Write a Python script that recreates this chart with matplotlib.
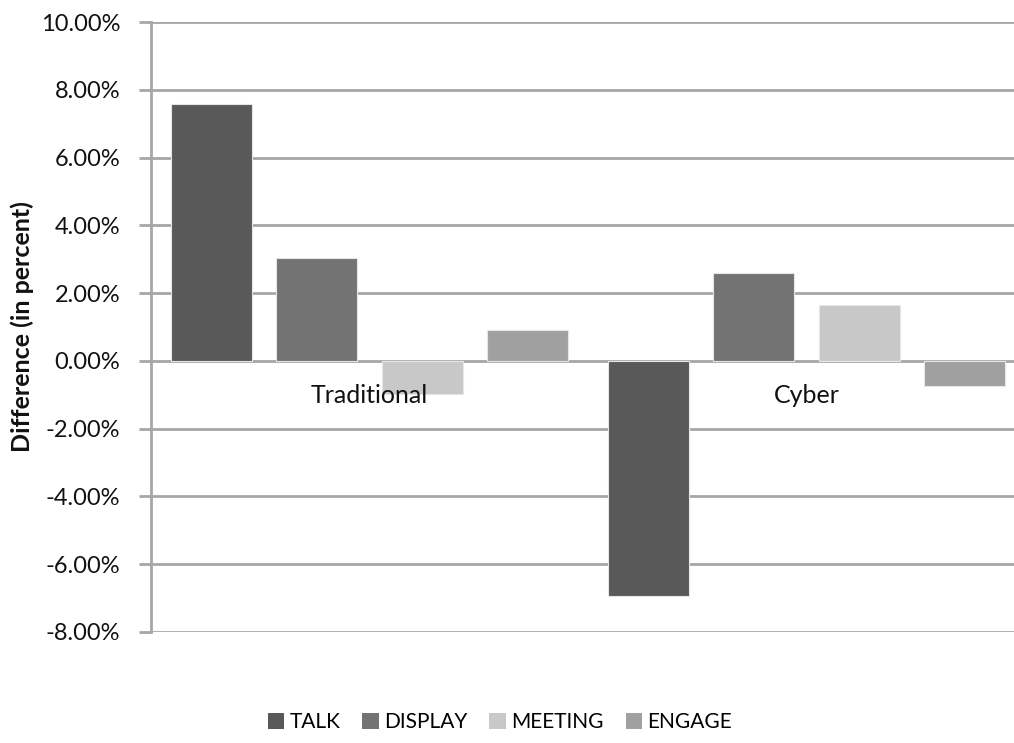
import matplotlib
matplotlib.use("Agg")
import matplotlib.pyplot as plt
from matplotlib.patches import Patch
import numpy as np

# Data: percent difference by category and behaviour type
categories = ["Traditional", "Cyber"]
series_names = ["TALK", "DISPLAY", "MEETING", "ENGAGE"]
talk = [7.58, -6.95]
display = [3.04, 2.60]
meeting = [-0.98, 1.66]
engage = [0.91, -0.75]
y_ticks = [-8, -6, -4, -2, 0, 2, 4, 6, 8, 10]

series_values = [talk, display, meeting, engage]
colors = ["#595959", "#737373", "#c8c8c8", "#a0a0a0"]

plt.rcParams["font.family"] = ["Lato", "DejaVu Sans"]

W, H = 1014, 743
fig = plt.figure(figsize=(W / 100, H / 100), dpi=100)
left, right, top, bottom = 151, 1025, 22, 632
ax = fig.add_axes([left / W, 1 - bottom / H, (right - left) / W, (bottom - top) / H])

x = np.arange(len(categories))
bar_w = 0.185
step = 0.241
offsets = (np.arange(len(series_names)) - 1.5) * step
for vals, name, col, off in zip(series_values, series_names, colors, offsets):
    ax.bar(x + off, vals, width=bar_w, color=col, edgecolor="#e6e6e6",
           linewidth=0.8, label=name, zorder=3)

ax.set_xlim(-0.5, len(categories) - 0.5)
ax.set_ylim(y_ticks[0], y_ticks[-1])
ax.set_yticks(y_ticks)
ax.set_yticklabels([f"{v:.2f}%" for v in y_ticks], fontsize=17, color="#111111")
ax.set_xticks([])

grid_color = "#a6a6a6"
for v in y_ticks:
    ax.axhline(v, color=grid_color, linewidth=2, zorder=1)

for s in ["top", "right", "bottom"]:
    ax.spines[s].set_visible(False)
ax.spines["left"].set_color(grid_color)
ax.spines["left"].set_linewidth(2)
ax.tick_params(axis="y", length=9, width=2, color=grid_color, pad=13)

# Category labels sit just under the zero line
for xi, cat in zip(x, categories):
    ax.annotate(cat, xy=(xi, 0), xytext=(0, -25), textcoords="offset points",
                ha="center", va="center", fontsize=18, color="#111111", zorder=5)

fig.text(22 / W, 1 - 327 / H, "Difference (in percent)", rotation=90,
         ha="center", va="center", fontsize=18, fontweight="bold", color="#111111")

handles = [Patch(facecolor=c, edgecolor="none") for c in colors]
fig.legend(handles, series_names, loc="center", bbox_to_anchor=(500 / W, 1 - 722 / H),
           ncol=4, frameon=False, fontsize=15, handlelength=0.8, handleheight=0.8,
           handletextpad=0.25, columnspacing=1.05)

fig.savefig("out.png", dpi=100)
